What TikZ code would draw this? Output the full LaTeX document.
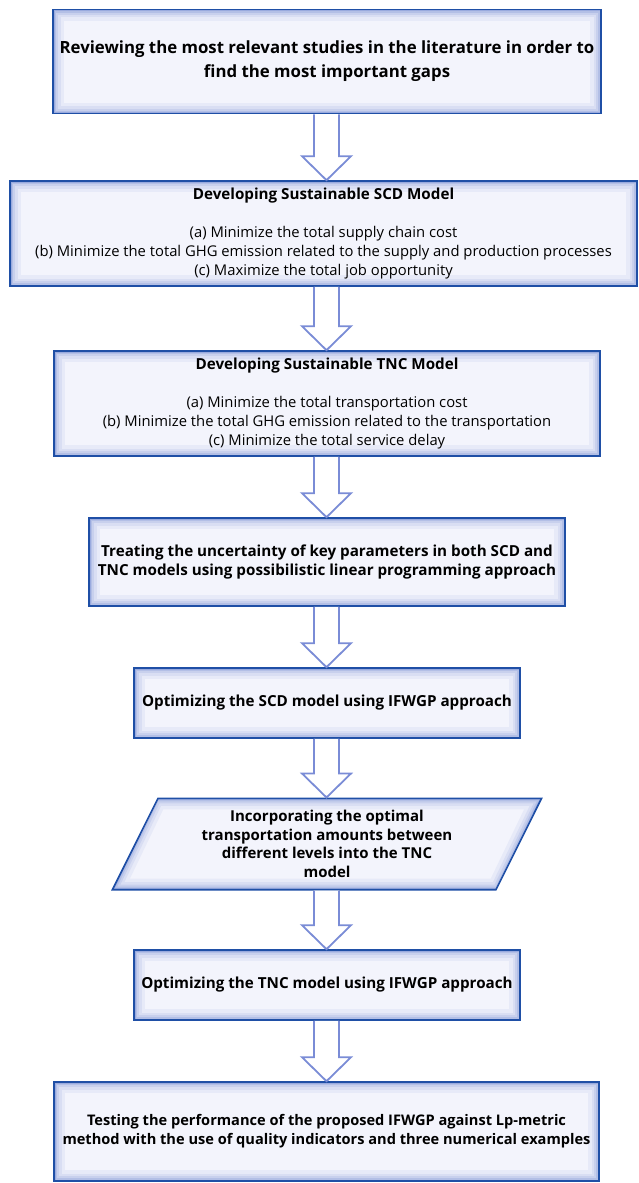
\documentclass[tikz,border=0pt]{standalone}
\usepackage{fontspec}
\setmainfont{Open Sans}
\usetikzlibrary{shapes.geometric}

\definecolor{boxline}{HTML}{1F4FA6}
\definecolor{boxglow}{HTML}{4F6CC8}
\definecolor{boxfill}{HTML}{F3F4FC}
\definecolor{arrowline}{HTML}{7A8CD6}

\tikzset{
  stepbox/.style={draw=boxline, line width=1.6pt, fill=boxfill, inner sep=0pt,
    align=center, font=\fontsize{14.8}{19}\selectfont,
    path picture={
      \foreach \w/\o in {22/0.07,15/0.09,10/0.12,6/0.17,3/0.25}
        \draw[boxglow, line width=\w pt, opacity=\o]
          (path picture bounding box.south west) rectangle (path picture bounding box.north east);
    }},
  parabox/.style={shape=trapezium, trapezium left angle=63.4, trapezium right angle=116.6,
    draw=boxline, line width=1.6pt, fill=boxfill, inner sep=0pt,
    align=center, font=\fontsize{15}{18.7}\selectfont\bfseries,
    path picture={
      \foreach \w/\o in {22/0.07,15/0.09,10/0.12,6/0.17,3/0.25}
        \draw[boxglow, line width=\w pt, opacity=\o]
          ([xshift=44pt]path picture bounding box.north west) -- (path picture bounding box.north east)
          -- ([xshift=-44pt]path picture bounding box.south east) -- (path picture bounding box.south west) -- cycle;
    }},
  titletext/.style={font=\fontsize{16.8}{24}\selectfont\bfseries},
  boldtext/.style={font=\fontsize{15.2}{19}\selectfont\bfseries},
  bigarrow/.style={draw=arrowline, line width=1.8pt, fill=white},
}

\begin{document}
\begin{tikzpicture}[x=1pt,y=-1pt]
\useasboundingbox (0,0) rectangle (639,1183);
\coordinate (col) at (326.5,0);

\node[stepbox, titletext, minimum width=548, minimum height=104] (review) at (327,61.5)
  {Reviewing the most relevant studies in the literature in order to\\find the most important gaps};
\node[stepbox, minimum width=627, minimum height=105] (scd) at (323.5,233.5)
  {\textbf{\fontsize{15.2}{19}\selectfont Developing Sustainable SCD Model}\\[19pt]
   (a) Minimize the total supply chain cost\\
   (b) Minimize the total GHG emission related to the supply and production processes\\
   (c) Maximize the total job opportunity};
\node[stepbox, minimum width=546, minimum height=105] (tnc) at (327,403.5)
  {\textbf{\fontsize{15.2}{19}\selectfont Developing Sustainable TNC Model}\\[19pt]
   (a) Minimize the total transportation cost\\
   (b) Minimize the total GHG emission related to the transportation\\
   (c) Minimize the total service delay};
\node[stepbox, boldtext, minimum width=476, minimum height=88] (uncert) at (327,562)
  {Treating the uncertainty of key parameters in both SCD and\\TNC models using possibilistic linear programming approach};
\node[stepbox, boldtext, minimum width=386, minimum height=70] (optscd) at (327,703)
  {Optimizing the SCD model using IFWGP approach};
\node[parabox, minimum width=430, minimum height=86] (incorp) at (327,844)
  {Incorporating the optimal\\transportation amounts between\\different levels into the TNC\\model};
\node[stepbox, boldtext, minimum width=386, minimum height=70] (opttnc) at (327,985)
  {Optimizing the TNC model using IFWGP approach};
\node[stepbox, boldtext, font=\fontsize{14.6}{19}\selectfont\bfseries, minimum width=545, minimum height=99] (testing) at (326.5,1131.5)
  {Testing the performance of the proposed IFWGP against Lp-metric\\method with the use of quality indicators and three numerical examples};

% block arrows between the steps
\foreach \a/\b in {review/scd, scd/tnc, tnc/uncert, uncert/optscd, optscd/incorp, incorp/opttnc, opttnc/testing}
  \draw[bigarrow] ([xshift=-12.5pt]col |- \a.south) -- ([xshift=-12.5pt,yshift=24pt]col |- \b.north)
    -- ([xshift=-24.5pt,yshift=24pt]col |- \b.north) -- (col |- \b.north)
    -- ([xshift=24.5pt,yshift=24pt]col |- \b.north) -- ([xshift=12.5pt,yshift=24pt]col |- \b.north)
    -- ([xshift=12.5pt]col |- \a.south);
\end{tikzpicture}
\end{document}
